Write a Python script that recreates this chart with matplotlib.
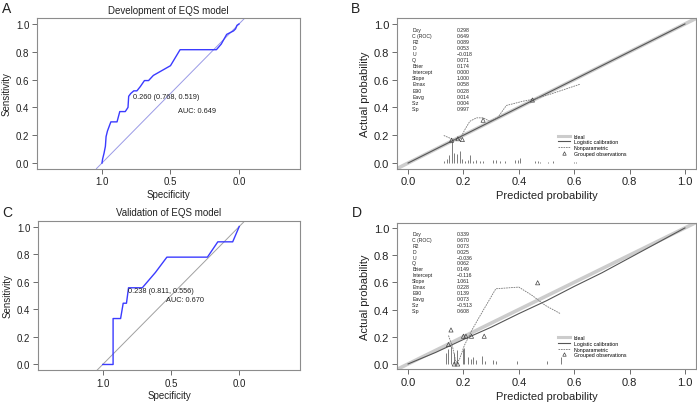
import matplotlib
matplotlib.use('Agg')
import matplotlib.pyplot as plt
from matplotlib.lines import Line2D

plt.rcParams['font.family'] = ['Liberation Sans', 'DejaVu Sans']
plt.rcParams['axes.unicode_minus'] = True

# ROC 曲线（specificity, sensitivity）
dev_spec = [1.0, 0.995, 0.985, 0.975, 0.97, 0.96, 0.945, 0.935, 0.89, 0.87, 0.83, 0.81,
            0.805, 0.79, 0.768, 0.745, 0.72, 0.69, 0.66, 0.625, 0.50, 0.43, 0.165, 0.13,
            0.11, 0.09, 0.04, 0.025, 0.015, 0.0]
dev_sens = [0.0, 0.03, 0.07, 0.12, 0.19, 0.23, 0.27, 0.296, 0.296, 0.37, 0.37, 0.40,
            0.48, 0.50, 0.519, 0.519, 0.55, 0.593, 0.593, 0.63, 0.70, 0.815, 0.815, 0.855,
            0.89, 0.925, 0.95, 0.965, 0.99, 1.0]
val_spec = [1.0, 0.924, 0.924, 0.869, 0.85, 0.826, 0.811, 0.71, 0.614, 0.53, 0.233, 0.157, 0.048, 0.0]
val_sens = [0.0, 0.0, 0.333, 0.333, 0.444, 0.444, 0.556, 0.556, 0.667, 0.778, 0.778, 0.889, 0.889, 1.0]
dev_thres = (0.768, 0.519, '0.260 (0.768, 0.519)')
val_thres = (0.811, 0.556, '0.238 (0.811, 0.556)')
dev_auc = 'AUC: 0.649'
val_auc = 'AUC: 0.670'

# 校准曲线统计量
stat_names = ['Dxy', 'C (ROC)', 'R2', 'D', 'U', 'Q', 'Brier', 'Intercept', 'Slope',
              'Emax', 'E90', 'Eavg', 'S:z', 'S:p']
dev_stats = ['0.298', '0.649', '0.089', '0.053', '\u22120.018', '0.071', '0.174', '0.000',
             '1.000', '0.058', '0.028', '0.014', '0.004', '0.997']
val_stats = ['0.339', '0.670', '0.073', '0.025', '\u22120.036', '0.062', '0.149', '\u22120.116',
             '1.061', '0.228', '0.139', '0.073', '\u22120.513', '0.608']

# 开发集校准
dev_logit_x = [0.0, 1.0]
dev_logit_y = [0.0, 1.0]
dev_np_x = [0.129, 0.15, 0.17, 0.187, 0.205, 0.223, 0.247, 0.271, 0.295, 0.325, 0.355, 0.416, 0.45, 0.512, 0.62]
dev_np_y = [0.198, 0.18, 0.168, 0.17, 0.24, 0.30, 0.325, 0.325, 0.30, 0.33, 0.414, 0.445, 0.458, 0.494, 0.566]
dev_grp_x = [0.157, 0.18, 0.196, 0.271, 0.449]
dev_grp_y = [0.164, 0.175, 0.169, 0.308, 0.453]
dev_rug_x = [0.129, 0.139, 0.147, 0.157, 0.166, 0.175, 0.187, 0.196, 0.205, 0.217, 0.225, 0.235,
             0.247, 0.259, 0.271, 0.307, 0.319, 0.331, 0.349, 0.386, 0.398, 0.406, 0.458, 0.47,
             0.476, 0.506, 0.524, 0.599, 0.608]
dev_rug_h = [0.015, 0.03, 0.06, 0.155, 0.07, 0.065, 0.09, 0.03, 0.012, 0.02, 0.06, 0.015,
             0.02, 0.015, 0.015, 0.02, 0.025, 0.015, 0.015, 0.02, 0.02, 0.035, 0.015, 0.015,
             0.01, 0.01, 0.015, 0.01, 0.01]

# 验证集校准
val_logit_x = [0.0, 0.1, 0.2, 0.3, 0.4, 0.5, 0.6, 0.7, 0.8, 0.9, 1.0]
val_logit_y = [0.0, 0.085, 0.18, 0.27, 0.37, 0.465, 0.57, 0.67, 0.78, 0.89, 1.0]
val_np_x = [0.146, 0.161, 0.173, 0.185, 0.203, 0.233, 0.257, 0.317, 0.40, 0.448, 0.496, 0.551]
val_np_y = [0.209, 0.123, 0.012, 0.03, 0.135, 0.258, 0.344, 0.553, 0.565, 0.504, 0.43, 0.369]
val_grp_x = [0.146, 0.155, 0.167, 0.179, 0.2, 0.209, 0.229, 0.275, 0.468]
val_grp_y = [0.143, 0.25, 0.0, 0.0, 0.204, 0.204, 0.204, 0.204, 0.597]
val_rug_x = [0.137, 0.146, 0.155, 0.167, 0.176, 0.197, 0.203, 0.215, 0.227, 0.235, 0.245,
             0.266, 0.278, 0.305, 0.317, 0.394, 0.502, 0.551]
val_rug_h = [0.08, 0.11, 0.135, 0.08, 0.10, 0.11, 0.12, 0.05, 0.04, 0.05, 0.03,
             0.055, 0.025, 0.03, 0.025, 0.025, 0.025, 0.05]

SPINE = '#8c8c8c'
TXT = '#222222'


def style_axes(ax, fs):
    for s in ax.spines.values():
        s.set_color(SPINE)
        s.set_linewidth(0.8)
    ax.tick_params(direction='out', length=3.5, width=0.6, color='#555555',
                   labelsize=fs, labelcolor=TXT, pad=2)


def draw_roc(ax, spec, sens, thres, dy, title, diag_color):
    ax.axline((1.0, 0.0), (0.0, 1.0), color=diag_color, lw=0.7, zorder=1)
    ax.plot(spec, sens, color='#3b3bff', lw=1.0, zorder=3)
    ax.text(thres[0] + 0.005, thres[1] - dy, thres[2], fontsize=5.3, color=TXT,
            ha='left', va='center')
    ax.set_xlim(1.474, -0.445)
    ax.set_ylim(-0.04, 1.04)
    ax.set_xticks([1.0, 0.5, 0.0])
    ax.set_xticklabels(['1.0', '0.5', '0.0'])
    ax.set_yticks([0.0, 0.2, 0.4, 0.6, 0.8, 1.0])
    ax.set_yticklabels(['0.0', '0.2', '0.4', '0.6', '0.8', '1.0'])
    ax.set_xlabel('Specificity', fontsize=7, color=TXT, labelpad=2)
    ax.set_ylabel('Sensitivity', fontsize=7, color=TXT, labelpad=3)
    ax.set_title(title, fontsize=7, color=TXT, pad=4)
    style_axes(ax, 7)
    return ax


def draw_cal(ax, lx, ly, npx, npy, gx, gy, rx, rh, stats, leg_y):
    ax.axline((0, 0), (1, 1), color='#cccccc', lw=2.6, zorder=1, solid_capstyle='butt')
    ax.plot(lx, ly, color='#555555', lw=0.8, zorder=2)
    ax.plot(npx, npy, color='#777777', lw=0.6, ls=(0, (2, 1)), zorder=2)
    ax.vlines(rx, 0, rh, color='#666666', lw=0.6, zorder=2)
    ax.scatter(gx, gy, marker='^', s=9, facecolors='none', edgecolors='#444444',
               linewidths=0.5, zorder=4)
    for i, (n, v) in enumerate(zip(stat_names, stats)):
        yy = 0.96 - i * 0.0435
        ax.text(0.015, yy, n, fontsize=3.7, color=TXT, va='center', ha='left')
        ax.text(0.177, yy, v, fontsize=3.7, color=TXT, va='center', ha='left')
    handles = [Line2D([], [], color='#cccccc', lw=2.2),
               Line2D([], [], color='#555555', lw=0.8),
               Line2D([], [], color='#777777', lw=0.6, ls=(0, (2, 1))),
               Line2D([], [], color='#444444', marker='^', ls='none', markersize=2.5,
                      markerfacecolor='none', markeredgewidth=0.5)]
    ax.legend(handles, ['Ideal', 'Logistic calibration', 'Nonparametric', 'Grouped observations'],
              loc='upper left', bbox_to_anchor=(0.53, leg_y), fontsize=3.8, frameon=False,
              handlelength=2.2, handletextpad=0.8, labelspacing=0.12, borderpad=0)
    ax.set_xlim(-0.04, 1.04)
    ax.set_ylim(-0.04, 1.04)
    ticks = [0.0, 0.2, 0.4, 0.6, 0.8, 1.0]
    tl = ['0.0', '0.2', '0.4', '0.6', '0.8', '1.0']
    ax.set_xticks(ticks)
    ax.set_xticklabels(tl)
    ax.set_yticks(ticks)
    ax.set_yticklabels(tl)
    ax.set_xlabel('Predicted probability', fontsize=8, color=TXT, labelpad=3)
    ax.set_ylabel('Actual probability', fontsize=8, color=TXT, labelpad=3)
    style_axes(ax, 8)


fig = plt.figure(figsize=(6.97, 4.06), dpi=100)
W, H = 697.0, 406.0


def add_ax(l, r, t, b):
    return fig.add_axes([l / W, 1 - b / H, (r - l) / W, (b - t) / H])


axA = add_ax(37, 300, 19.4, 169.6)
axB = add_ax(397, 696, 19.4, 169.6)
axC = add_ax(38, 300, 222, 371)
axD = add_ax(397, 696, 223.5, 370.4)

draw_roc(axA, dev_spec, dev_sens, dev_thres, 0.044, 'Development of EQS model', '#9a9ae6')
axA.text(0.31, 0.375, dev_auc, fontsize=5.3, color=TXT, ha='center', va='center')
draw_roc(axC, val_spec, val_sens, val_thres, 0.023, 'Validation of EQS model', '#a0a0a0')
axC.text(0.40, 0.472, val_auc, fontsize=5.3, color=TXT, ha='center', va='center')

draw_cal(axB, dev_logit_x, dev_logit_y, dev_np_x, dev_np_y, dev_grp_x, dev_grp_y,
         dev_rug_x, dev_rug_h, dev_stats, 0.25)
draw_cal(axD, val_logit_x, val_logit_y, val_np_x, val_np_y, val_grp_x, val_grp_y,
         val_rug_x, val_rug_h, val_stats, 0.25)

for lab, x, y in [('A', 7, 9), ('B', 356, 9), ('C', 7, 213), ('D', 357, 213)]:
    fig.text(x / W, 1 - y / H, lab, fontsize=10, color=TXT, ha='center', va='center')

fig.savefig('out.png', dpi=100)
